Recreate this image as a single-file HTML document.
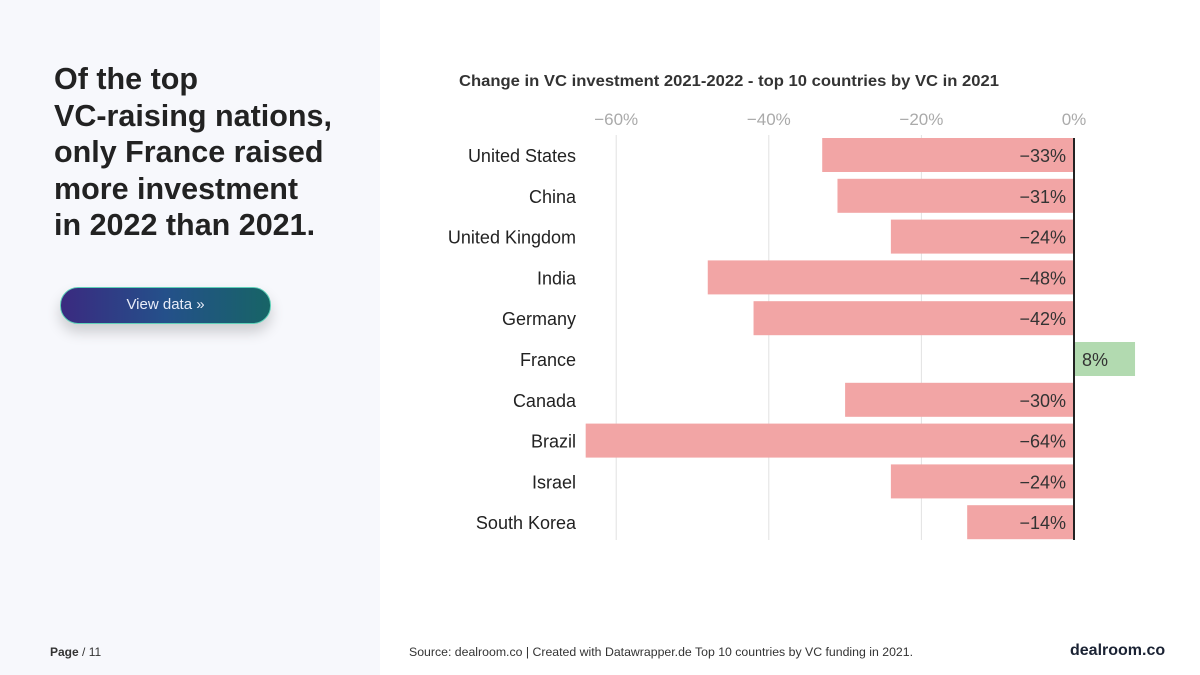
<!DOCTYPE html>
<html><head><meta charset="utf-8"><style>
body{margin:0;width:1200px;height:675px;background:#fff;position:relative;overflow:hidden;font-family:"Liberation Sans",sans-serif}
#left{position:absolute;left:0;top:0;width:380px;height:675px;background:#f7f8fc}
h1{position:absolute;left:54px;top:61px;margin:0;font-size:30.5px;line-height:36.5px;font-weight:bold;color:#222;letter-spacing:0px}
#btn{position:absolute;left:60px;top:287px;width:211px;height:37px;border-radius:18px;background:linear-gradient(90deg,#3a2a80,#24508a,#176466);border:1.5px solid #5fd0b8;box-sizing:border-box;color:#e8ecf8;font-size:15px;text-align:center;line-height:34px;box-shadow:0 8px 14px rgba(0,0,0,0.18)}
.foot{position:absolute;font-size:12px;color:#333}
</style></head><body>
<div id="left"></div>
<h1>Of the top<br>VC-raising nations,<br>only France raised<br>more investment<br>in 2022 than 2021.</h1>
<div id="btn">View data »</div>
<div class="foot" style="left:50px;top:645px"><b>Page</b> / 11</div>
<div class="foot" style="left:409px;top:645px;font-size:12.3px">Source: dealroom.co | Created with Datawrapper.de Top 10 countries by VC funding in 2021.</div>
<div class="foot" style="left:1070px;top:642px;font-size:16px;font-weight:bold;color:#1a2233">dealroom.co</div>
<svg id="chart" width="1200" height="675" style="position:absolute;left:0;top:0">
<text x="459" y="86" font-size="15.5" font-weight="bold" fill="#333" textLength="540" lengthAdjust="spacingAndGlyphs">Change in VC investment 2021-2022 - top 10 countries by VC in 2021</text>
</svg>
<script>
const countries=["United States","China","United Kingdom","India","Germany","France","Canada","Brazil","Israel","South Korea"];
const values=[-33,-31,-24,-48,-42,8,-30,-64,-24,-14];
const ticks=[-60,-40,-20,0];
const svg=document.getElementById('chart');
const NS="http://www.w3.org/2000/svg";
const x=v=>1074+v*7.63;
const y=i=>138+i*40.8;
function mk(t,a){const e=document.createElementNS(NS,t);for(const k in a)e.setAttribute(k,a[k]);svg.appendChild(e);return e;}
ticks.forEach(t=>{
 if(t!==0){const l=mk('line',{x1:x(t),x2:x(t),y1:135,y2:540,stroke:'#e2e2e2','stroke-width':1});
 
 }
 const tx=mk('text',{x:x(t),y:125,'font-size':17,fill:'#aaa','text-anchor':'middle'});
 tx.textContent=(t<0?'\u2212':'')+Math.abs(t)+'%';
 
 
});
countries.forEach((c,i)=>{
 const v=values[i];
 const r=mk('rect',{x:Math.min(x(0),x(v)),y:y(i),width:Math.abs(x(v)-x(0)),height:34,fill:v<0?'#f2a5a5':'#b2dab0'});
 
 
 const lb=mk('text',{x:576,y:y(i)+24,'font-size':18,fill:'#222','text-anchor':'end'});
 lb.textContent=c;
 
 
 const vl=mk('text',{x:v<0?x(0)-8:x(0)+8,y:y(i)+24,'font-size':18,fill:'#333','text-anchor':v<0?'end':'start'});
 vl.textContent=(v<0?'\u2212':'')+Math.abs(v)+'%';
 
 
});
const z=mk('line',{x1:x(0),x2:x(0),y1:138,y2:540,stroke:'#222','stroke-width':2});


</script>
</body></html>
